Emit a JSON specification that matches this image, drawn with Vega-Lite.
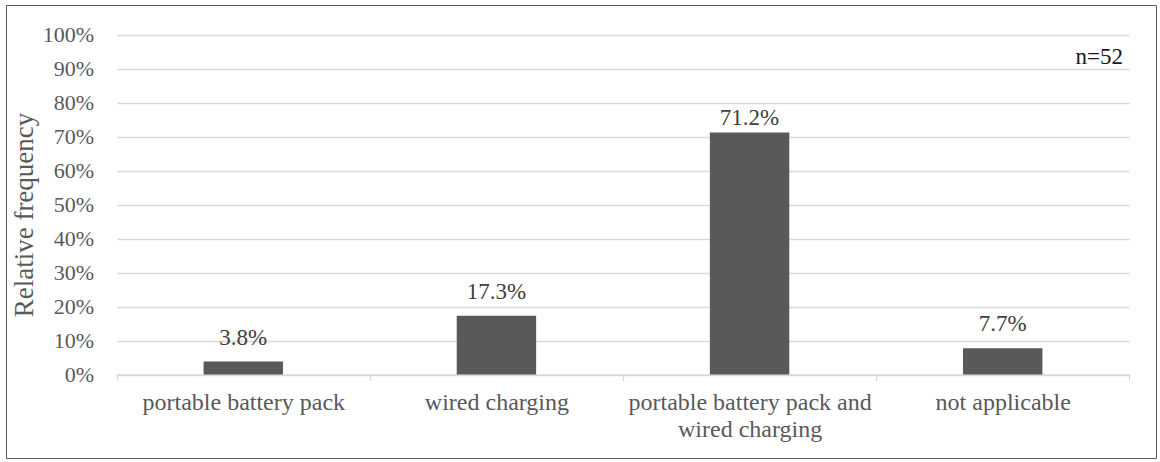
{
  "$schema": "https://vega.github.io/schema/vega-lite/v6.json",
  "width": 1150,
  "height": 453,
  "autosize": {"type": "none"},
  "padding": {"left": 6, "top": 5, "right": 4, "bottom": 4},
  "background": "white",
  "title": {
    "text": "n=52",
    "orient": "top",
    "anchor": "end",
    "frame": "group",
    "offset": -52.5,
    "baseline": "middle",
    "dx": -33,
    "dy": 22.5,
    "font": "Liberation Serif",
    "fontSize": 23,
    "fontWeight": "normal",
    "color": "#1a1a1a"
  },
  "config": {
    "font": "Liberation Serif",
    "view": {"stroke": "#595959", "strokeWidth": 1, "fill": "white"}
  },
  "data": {
    "values": [
      {"charging": "portable battery pack", "share": 0.038},
      {"charging": "wired charging", "share": 0.173},
      {"charging": "portable battery pack and wired charging", "share": 0.712},
      {"charging": "not applicable", "share": 0.077}
    ]
  },
  "encoding": {
    "x": {
      "field": "charging",
      "type": "nominal",
      "sort": null,
      "scale": {"range": [110.7, 1123.3], "paddingInner": 0, "paddingOuter": 0},
      "axis": {
        "title": null,
        "orient": "bottom",
        "offset": -83.5,
        "labelAngle": 0,
        "labelFont": "Liberation Serif",
        "labelFontSize": 24,
        "labelColor": "#595959",
        "labelPadding": 10,
        "labelLineHeight": 27,
        "labelLimit": 0,
        "labelExpr": "datum.value == 'portable battery pack and wired charging' ? ['portable battery pack and', 'wired charging'] : datum.label",
        "domainColor": "#d9d9d9",
        "domainWidth": 1.3,
        "ticks": true,
        "tickBand": "extent",
        "tickColor": "#d9d9d9",
        "tickWidth": 1.3,
        "tickSize": 6,
        "grid": false
      }
    },
    "y": {
      "field": "share",
      "type": "quantitative",
      "scale": {"domain": [0, 1], "range": [369.5, 29.7], "nice": false},
      "axis": {
        "title": "Relative frequency",
        "titleFont": "Liberation Serif",
        "titleFontSize": 27,
        "titleFontWeight": "normal",
        "titleColor": "#595959",
        "titlePadding": 4,
        "titleY": 209.5,
        "orient": "left",
        "offset": -110.7,
        "format": "%",
        "values": [0, 0.1, 0.2, 0.3, 0.4, 0.5, 0.6, 0.7, 0.8, 0.9, 1],
        "labelFont": "Liberation Serif",
        "labelFontSize": 22,
        "labelColor": "#595959",
        "labelPadding": 23,
        "ticks": false,
        "domain": false,
        "grid": true,
        "gridColor": "#d9d9d9",
        "gridWidth": 1.3
      }
    }
  },
  "layer": [
    {
      "mark": {"type": "bar", "color": "#595959", "width": {"band": 0.3137}}
    },
    {
      "transform": [{"filter": "datum.share < 0.5"}],
      "mark": {"type": "text", "dy": -17, "baseline": "alphabetic", "fontSize": 23, "color": "#404040", "font": "Liberation Serif"},
      "encoding": {
        "text": {"field": "share", "type": "quantitative", "format": ".1%"}
      }
    },
    {
      "transform": [{"filter": "datum.share >= 0.5"}],
      "mark": {"type": "text", "dy": -8, "baseline": "alphabetic", "fontSize": 23, "color": "#404040", "font": "Liberation Serif"},
      "encoding": {
        "text": {"field": "share", "type": "quantitative", "format": ".1%"}
      }
    }
  ]
}
